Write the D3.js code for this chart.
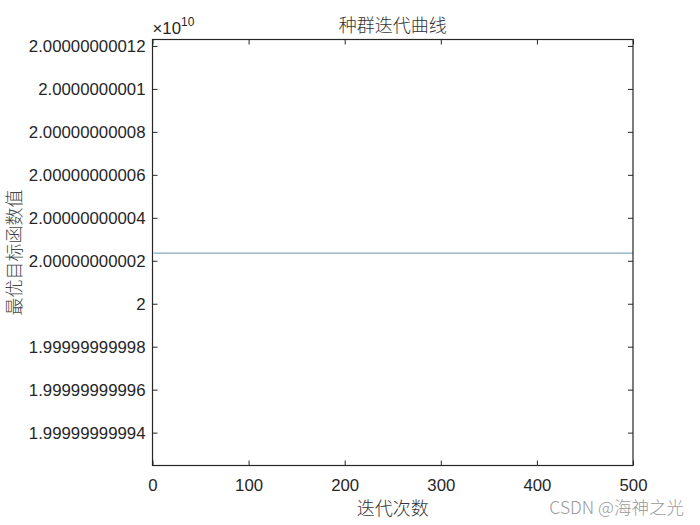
<!DOCTYPE html>
<html>
<head>
<meta charset="utf-8">
<script src="https://cdn.jsdelivr.net/npm/d3@7"></script>
<style>
  html, body { margin: 0; padding: 0; background: #fff; }
  svg { display: block; }
</style>
</head>
<body>
<svg id="chart" width="700" height="525"></svg>
<script>
// Data (y values shown in units of 1e10)
const iterations = [1, 100, 200, 300, 400, 500];
const bestValues = [2.0000000000236, 2.0000000000236, 2.0000000000236, 2.0000000000236, 2.0000000000236, 2.0000000000236];
const xTicks = [0, 100, 200, 300, 400, 500];
const yTicks = [1.99999999994, 1.99999999996, 1.99999999998, 2, 2.00000000002, 2.00000000004, 2.00000000006, 2.00000000008, 2.0000000001, 2.00000000012];
const yTickLabels = ["1.99999999994", "1.99999999996", "1.99999999998", "2", "2.00000000002", "2.00000000004", "2.00000000006", "2.00000000008", "2.0000000001", "2.00000000012"];
const titleText = "种群迭代曲线";
const xLabelText = "迭代次数";
const yLabelText = "最优目标函数值";
const watermarkText = "CSDN @海神之光";

const svg = d3.select("#chart");
const pLeft = 152.5, pRight = 633, pTop = 39.5, pBottom = 465.5;

const x = d3.scaleLinear().domain([0, 500]).range([pLeft, pRight]);
const y = d3.scaleLinear().domain([1.999999999924700, 2.0000000001230]).range([pBottom, pTop]);

const tickFont = "Liberation Sans, Arial, sans-serif";
const cjkFont = "'Noto Sans CJK SC', sans-serif";

// line
const line = d3.line().x((d, i) => x(iterations[i])).y(d => y(d));
svg.append("path")
  .datum(bestValues)
  .attr("d", line)
  .attr("fill", "none")
  .attr("stroke", "#86a9bc")
  .attr("stroke-width", 1.2);

// axes
const tickLen = 5;
const fmtY = d => yTickLabels[yTicks.indexOf(d)];

const gB = svg.append("g").attr("transform", `translate(0,${pBottom})`)
  .call(d3.axisBottom(x).tickValues(xTicks).tickSizeInner(-tickLen).tickSizeOuter(0).tickPadding(10));
const gT = svg.append("g").attr("transform", `translate(0,${pTop})`)
  .call(d3.axisTop(x).tickValues(xTicks).tickSizeInner(-tickLen).tickSizeOuter(0).tickFormat(""));
const gL = svg.append("g").attr("transform", `translate(${pLeft},0)`)
  .call(d3.axisLeft(y).tickValues(yTicks).tickSizeInner(-tickLen).tickSizeOuter(0).tickPadding(7).tickFormat(fmtY));
const gR = svg.append("g").attr("transform", `translate(${pRight},0)`)
  .call(d3.axisRight(y).tickValues(yTicks).tickSizeInner(-tickLen).tickSizeOuter(0).tickFormat(""));

[gB, gT, gL, gR].forEach(g => {
  g.select(".domain").remove();
  g.selectAll(".tick line").attr("stroke", "#262626").attr("stroke-width", 1);
  g.selectAll(".tick text").attr("fill", "#262626").style("font-family", tickFont).style("font-size", "16.8px");
});
gB.selectAll(".tick text").attr("dy", "0.9em");

// box
svg.append("rect")
  .attr("x", pLeft).attr("y", pTop)
  .attr("width", pRight - pLeft).attr("height", pBottom - pTop)
  .attr("fill", "none").attr("stroke", "#262626").attr("stroke-width", 1.2);

// exponent label
const expo = svg.append("text").attr("x", pLeft).attr("y", 34)
  .style("font-family", tickFont).style("font-size", "16.8px").attr("fill", "#262626");
expo.append("tspan").text("×10");
expo.append("tspan").attr("dy", -8).style("font-size", "12px").text("10");

// title
svg.append("text").attr("x", (pLeft + pRight) / 2).attr("y", 32)
  .attr("text-anchor", "middle")
  .style("font-family", cjkFont).style("font-size", "18px").style("font-weight", 300).attr("fill", "#333")
  .text(titleText);

// x label
svg.append("text").attr("x", (pLeft + pRight) / 2).attr("y", 515)
  .attr("text-anchor", "middle")
  .style("font-family", cjkFont).style("font-size", "18px").style("font-weight", 300).attr("fill", "#333")
  .text(xLabelText);

// y label
svg.append("text")
  .attr("transform", `translate(21,${(pTop + pBottom) / 2}) rotate(-90)`)
  .attr("text-anchor", "middle")
  .style("font-family", cjkFont).style("font-size", "18px").style("font-weight", 300).attr("fill", "#444")
  .text(yLabelText);

// watermark
svg.append("text").attr("x", 684).attr("y", 514)
  .attr("text-anchor", "end")
  .style("font-family", "'Noto Sans CJK SC', Arial, sans-serif").style("font-size", "17.5px").style("font-weight", 300).attr("fill", "#9a9a9a")
  .text(watermarkText);
</script>
</body>
</html>
